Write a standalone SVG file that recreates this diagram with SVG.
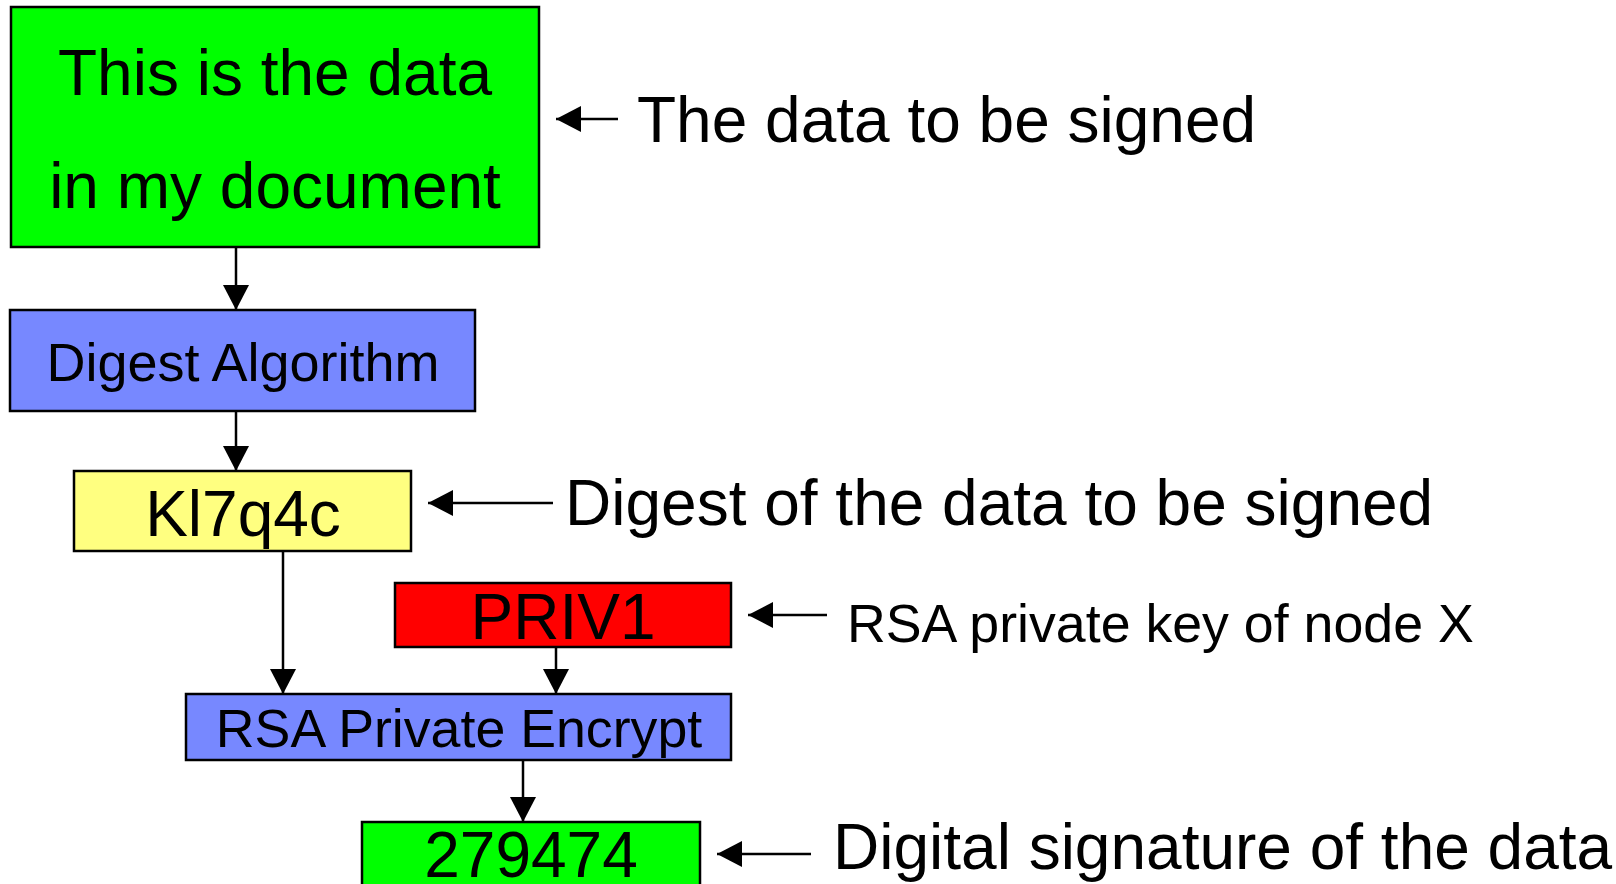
<svg xmlns="http://www.w3.org/2000/svg" width="1616" height="884" viewBox="0 0 1616 884">
  <defs>
    <marker id="head" markerUnits="userSpaceOnUse" markerWidth="26" markerHeight="26" refX="25" refY="13" orient="auto">
      <path d="M0,0 L25,13 L0,26 z" fill="#000"/>
    </marker>
    <style>
      .box { stroke: #000; stroke-width: 2.5; }
      .green { fill: #00ff00; }
      .blue { fill: #7788ff; }
      .yellow { fill: #ffff80; }
      .red { fill: #ff0000; }
      text { font-family: "Liberation Sans", Arial, sans-serif; fill: #000; }
      .big { font-size: 64px; }
      .mid { font-size: 53.7px; }
      .c { text-anchor: middle; }
      .link { stroke: #000; stroke-width: 2.5; fill: none; marker-end: url(#head); }
    </style>
  </defs>
  <rect width="1616" height="884" fill="#fff"/>

  <!-- signing pipeline -->
  <g id="document">
    <rect class="box green" x="11" y="7" width="528" height="240"/>
    <text class="big c" x="275" y="95">This is the data</text>
    <text class="big c" x="275" y="208">in my document</text>
  </g>
  <g id="digest-algorithm">
    <rect class="box blue" x="10" y="310" width="465" height="101"/>
    <text class="mid c" x="243" y="381" style="font-size:54px">Digest Algorithm</text>
  </g>
  <g id="digest">
    <rect class="box yellow" x="74" y="471" width="337" height="80"/>
    <text class="big c" x="243" y="536">Kl7q4c</text>
  </g>
  <g id="private-key">
    <rect class="box red" x="395" y="583" width="336" height="64"/>
    <text class="big c" x="563" y="639">PRIV1</text>
  </g>
  <g id="rsa-encrypt">
    <rect class="box blue" x="186" y="694" width="545" height="66"/>
    <text class="mid c" x="459" y="747">RSA Private Encrypt</text>
  </g>
  <g id="signature">
    <rect class="box green" x="362" y="822" width="338" height="80"/>
    <text class="big c" x="531" y="877">279474</text>
  </g>

  <!-- flow connectors and annotation pointers -->
  <g id="connectors">
    <line class="link" x1="236" y1="247" x2="236" y2="310"/>
    <line class="link" x1="236" y1="411" x2="236" y2="471"/>
    <line class="link" x1="283" y1="551" x2="283" y2="694"/>
    <line class="link" x1="556" y1="647" x2="556" y2="694"/>
    <line class="link" x1="523" y1="760" x2="523" y2="822"/>

    <line class="link" x1="618" y1="119" x2="556" y2="119"/>
    <line class="link" x1="553" y1="503" x2="428" y2="503"/>
    <line class="link" x1="827" y1="615" x2="748" y2="615"/>
    <line class="link" x1="811" y1="854" x2="717" y2="854"/>
  </g>

  <!-- annotations -->
  <g id="labels">
    <text class="big" x="637" y="142">The data to be signed</text>
    <text class="big" x="565" y="525">Digest of the data to be signed</text>
    <text class="mid" x="847" y="642">RSA private key of node X</text>
    <text class="big" x="833" y="869">Digital signature of the data</text>
  </g>
</svg>
